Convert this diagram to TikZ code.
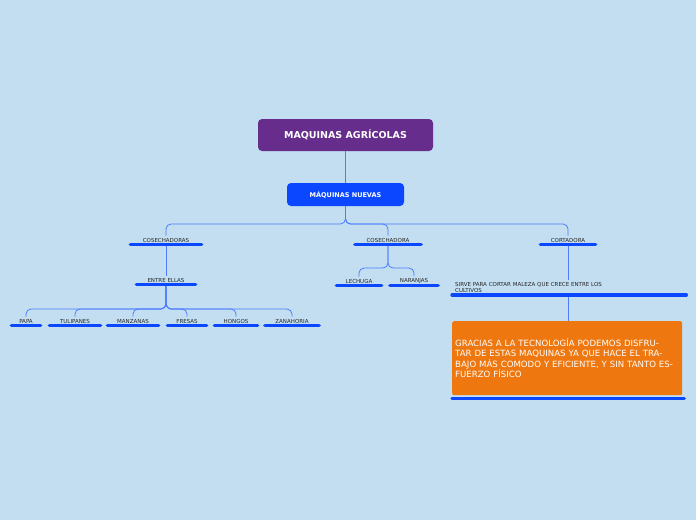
\documentclass[tikz,border=0pt]{standalone}
\usepackage{fontspec}
\setmainfont{DejaVu Sans}
\definecolor{bgblue}{HTML}{C2DEF0}
\definecolor{rootpurple}{HTML}{662D8C}
\definecolor{mainblue}{HTML}{0A47FF}
\definecolor{linkblue}{HTML}{4D7CFF}
\definecolor{noteorange}{HTML}{EE770F}
\begin{document}
\begin{tikzpicture}[x=1pt,y=-1pt,
 link/.style={draw=linkblue, line width=0.8pt, rounded corners=5pt},
 bar/.style={draw=mainblue, line width=3.2pt, line cap=round},
 topic/.style={font=\fontsize{5.5}{6.5}\selectfont, text=black!85, inner xsep=0pt, inner ysep=2pt, minimum width=#1}]

 \fill[bgblue] (0,0) rectangle (696,520);
 \useasboundingbox (0,0) rectangle (696,520);

 % main nodes
 \node (root) at (345.5,135) [fill=rootpurple, rounded corners=4pt, minimum width=175, minimum height=32,
   text=white, font=\bfseries\fontsize{9.5}{11}\selectfont] {MAQUINAS AGRÍCOLAS};
 \node (nuevas) at (345.5,194.5) [fill=mainblue, rounded corners=4pt, minimum width=117, minimum height=23,
   text=white, font=\bfseries\fontsize{6.5}{8}\selectfont] {MÁQUINAS NUEVAS};
 \draw[link] (root) -- (nuevas);

 % first level
 \node (cosechadoras) at (166,240) [topic=71] {COSECHADORAS};
 \node (cosechadora) at (388,240) [topic=66] {COSECHADORA};
 \node (cortadora) at (568,240) [topic=55] {CORTADORA};
 \foreach \n in {cosechadoras, cosechadora, cortadora}
  \draw[link] (nuevas.south) -- (nuevas.south |- 0,224) -| (\n.north);

 % second level
 \node (entre) at (166,280) [topic=59] {ENTRE ELLAS};
 \draw[link] (cosechadoras.south) -- (entre.north);
 \node (lechuga) at (359,281) [topic=45] {LECHUGA};
 \node (naranjas) at (414,281) [topic=48] {NARANJAS};
 \foreach \n in {lechuga, naranjas}
  \draw[link] (cosechadora.south) -- (cosechadora.south |- 0,268) -| (\n.north);
 \node (sirve) at (452,295) [anchor=south west, topic=232, align=left, text width=228, inner xsep=3pt]
  {SIRVE PARA CORTAR MALEZA QUE CRECE ENTRE LOS\\CULTIVOS};
 \draw[link] (cortadora.south) -- (sirve.north -| cortadora.south);

 % third level
 \node (papa) at (26,321) [topic=29] {PAPA};
 \node (tulipanes) at (75,321) [topic=51] {TULIPANES};
 \node (manzanas) at (133,321) [topic=51] {MANZANAS};
 \node (fresas) at (187,321) [topic=39] {FRESAS};
 \node (hongos) at (236,321) [topic=43] {HONGOS};
 \node (zanahoria) at (292,321) [topic=54] {ZANAHORIA};
 \foreach \n in {papa, tulipanes, manzanas, fresas, hongos, zanahoria}
  \draw[link] (entre.south) -- (entre.south |- 0,309) -| (\n.north);

 % note
 \node (nota) at (452,321) [anchor=north west, fill=noteorange, rounded corners=2pt, minimum width=230,
   minimum height=74, text width=224, inner xsep=3pt, align=left, text=white,
   font=\fontsize{8.6}{10.4}\selectfont]
  {GRACIAS A LA TECNOLOGÍA PODEMOS DISFRUTAR DE ESTAS MAQUINAS YA QUE HACE EL TRABAJO MÁS COMODO Y EFICIENTE, Y SIN TANTO ESFUERZO FÍSICO};
 \draw[link] (sirve.south -| cortadora.south) -- (nota.north -| cortadora.south);

 % underline bars
 \foreach \n in {cosechadoras, cosechadora, cortadora, entre, lechuga, naranjas, sirve,
   papa, tulipanes, manzanas, fresas, hongos, zanahoria}
  \draw[bar] (\n.south west) -- (\n.south east);
 \draw[bar] ([yshift=-3pt]nota.south west) -- ([yshift=-3pt,xshift=2pt]nota.south east);
\end{tikzpicture}
\end{document}
